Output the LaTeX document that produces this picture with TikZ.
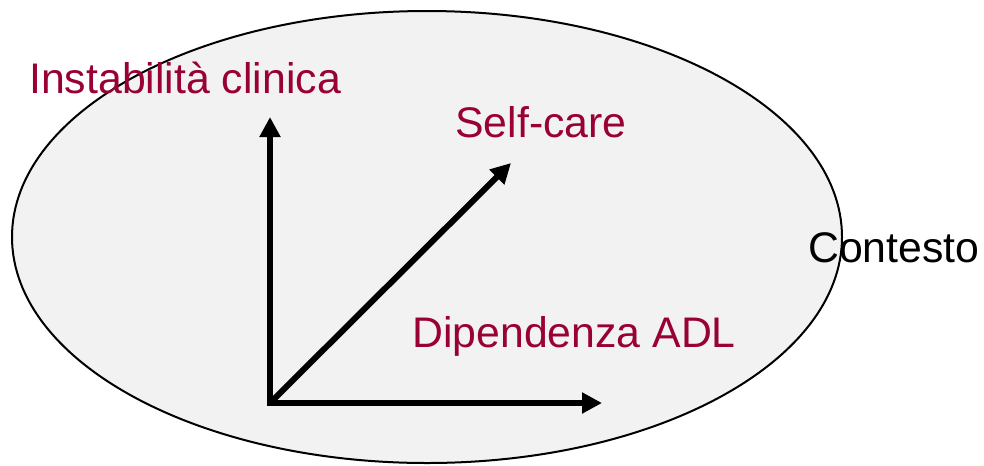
\documentclass[tikz,border=0pt]{standalone}
\usepackage{fontspec}
\setmainfont{Liberation Sans}
\usetikzlibrary{arrows.meta,shapes.geometric}
\definecolor{axislabel}{RGB}{153,0,51}
\definecolor{areafill}{RGB}{242,242,242}
\begin{document}
\begin{tikzpicture}[x=0.75pt,y=-0.75pt,
  label/.style={anchor=base west,inner sep=0pt,font=\fontsize{32.1}{38}\selectfont},
  axis/.style={line width=4.5pt,-{Triangle[length=15pt,width=15pt]}},
  area/.style={ellipse,draw=black,line width=1.5pt,fill=areafill,inner sep=0pt,
    minimum width=622.5pt,minimum height=339pt}]
  \useasboundingbox (0,0) rectangle (984,465);
  % context ellipse
  \node[area] (ctx) at (427,237) {};
  % axes
  \coordinate (o) at (270,403);
  \coordinate (top) at (270,117);
  \coordinate (right) at (602,403);
  \coordinate (diag) at (511,163);
  \draw[line width=4.5pt,{Triangle[length=15pt,width=15pt]}-{Triangle[length=15pt,width=15pt]}]
    (top) -- (o) -- (right);
  \draw[axis] (o) -- (diag);
  % labels
  \node[label,text=axislabel] (inst) at (29,93) {Instabilità clinica};
  \node[label,text=axislabel] (self) at (455,137) {Self-care};
  \node[label,text=axislabel] (adl) at (412,347) {Dipendenza ADL};
  \node[label] (cont) at (808,262) {Contesto};
\end{tikzpicture}
\end{document}
